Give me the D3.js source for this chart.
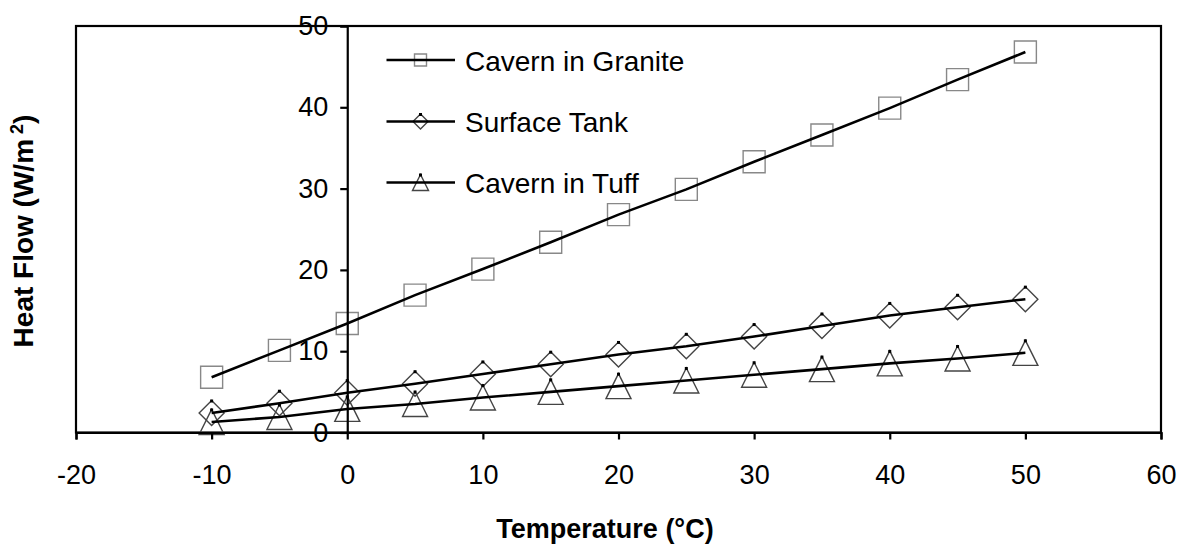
<!DOCTYPE html>
<html><head><meta charset="utf-8">
<script src="https://cdn.jsdelivr.net/npm/d3@7"></script>
<style>body{margin:0;background:#fff}svg{display:block}text{font-family:Arial,"Liberation Sans",sans-serif}</style>
</head><body>
<svg id="c" width="1181" height="544"></svg>
<script>
const temps = [-10,-5,0,5,10,15,20,25,30,35,40,45,50];
const granite = [6.8,10.1,13.4,16.9,20.1,23.4,26.8,29.9,33.3,36.6,39.9,43.4,46.8];
const surfaceTank = [2.4,3.6,4.9,6.0,7.2,8.4,9.6,10.6,11.8,13.1,14.4,15.4,16.4];
const tuff = [1.3,1.9,2.9,3.5,4.3,5.0,5.7,6.4,7.1,7.8,8.5,9.1,9.8];
const seriesNames = ["Cavern in Granite","Surface Tank","Cavern in Tuff"];
const xTicks = [-20,-10,0,10,20,30,40,50,60];
const yTicks = [0,10,20,30,40,50];

const svg = d3.select("#c");
const x = d3.scaleLinear([-20,60],[76,1161]);
const y = d3.scaleLinear([0,50],[432.5,26]);

const series = [
  {name:seriesNames[0], vals:granite, shape:"square"},
  {name:seriesNames[1], vals:surfaceTank, shape:"diamond"},
  {name:seriesNames[2], vals:tuff, shape:"triangle"}
];

function markerPath(shape, s){
  if(shape==="square"){const h=s/2;return `M${-h},${-h}H${h}V${h}H${-h}Z`;}
  if(shape==="diamond"){const h=s/2;return `M0,${-h}L${h},0L0,${h}L${-h},0Z`;}
  const h=s/2;return `M0,${-h}L${h},${h}L${-h},${h}Z`;
}
function drawMarker(g, shape, cx, cy, s){
  g.append("path").attr("d", markerPath(shape,s)).attr("transform",`translate(${cx},${cy})`)
    .attr("fill","none")
    .attr("stroke", shape==="square" ? "#888" : "#444")
    .attr("stroke-width", 1.4);
  if(shape!=="square"){
    g.append("rect").attr("x",cx-1.5).attr("y",cy-s/2-1).attr("width",3).attr("height",3).attr("fill","#000");
  }
}

// frame
svg.append("rect").attr("x",76).attr("y",26).attr("width",1161-76).attr("height",432.5-26)
  .attr("fill","none").attr("stroke","#000").attr("stroke-width",2.2);

// markers
const mg = svg.append("g");
series.forEach(s=>{
  s.vals.forEach((v,i)=>drawMarker(mg, s.shape, x(temps[i]), y(v), s.shape==="square"?22:25));
});

// lines
const line = d3.line().x((d,i)=>x(temps[i])).y(d=>y(d));
series.forEach(s=>{
  svg.append("path").attr("d", line(s.vals)).attr("fill","none").attr("stroke","#000").attr("stroke-width",2.6);
});

const FONT = "Arial, 'Liberation Sans', sans-serif";
// x axis
const xAxis = d3.axisBottom(x).tickValues(xTicks).tickSize(7).tickPadding(25).tickFormat(d=>String(d));
const gx = svg.append("g").attr("transform",`translate(0,${y(0)})`).call(xAxis);
gx.select(".domain").attr("stroke","#000").attr("stroke-width",2.2);
gx.selectAll(".tick line").attr("stroke","#000").attr("stroke-width",2.2);
gx.selectAll(".tick text").attr("font-size",27).attr("fill","#000").attr("font-family",FONT);

// y axis at x=0
const yAxis = d3.axisLeft(y).tickValues(yTicks).tickSize(7).tickPadding(12).tickFormat(d=>String(d));
const gy = svg.append("g").attr("transform",`translate(${x(0)},0)`).call(yAxis);
gy.select(".domain").attr("stroke","#000").attr("stroke-width",2.2);
gy.selectAll(".tick line").attr("stroke","#000").attr("stroke-width",2.2);
gy.selectAll(".tick text").attr("font-size",27).attr("fill","#000").attr("font-family",FONT);

// axis titles
svg.append("text").attr("x",605).attr("y",538).attr("text-anchor","middle")
  .attr("font-size",27).attr("font-weight","bold").text("Temperature (°C)");
const yt = svg.append("text").attr("transform","translate(33,231) rotate(-90)").attr("text-anchor","middle")
  .attr("font-size",28).attr("font-weight","bold");
yt.append("tspan").text("Heat Flow (W/m");
yt.append("tspan").attr("dx",5).attr("dy",-10).attr("font-size",18).text("2");
yt.append("tspan").attr("dy",10).text(")");

// legend
const legY = [60, 121.5, 182.5];
const legSize = [12, 15, 16];
series.forEach((s,i)=>{
  const g = svg.append("g");
  drawMarker(g, s.shape, 420.5, legY[i], legSize[i]);
  g.append("line").attr("x1",386.5).attr("x2",455).attr("y1",legY[i]).attr("y2",legY[i]).attr("stroke","#000").attr("stroke-width",2.6);
  g.append("text").attr("x",465).attr("y",legY[i]+10.5).attr("font-size",28).attr("fill","#000").text(s.name);
});
</script>
</body></html>
